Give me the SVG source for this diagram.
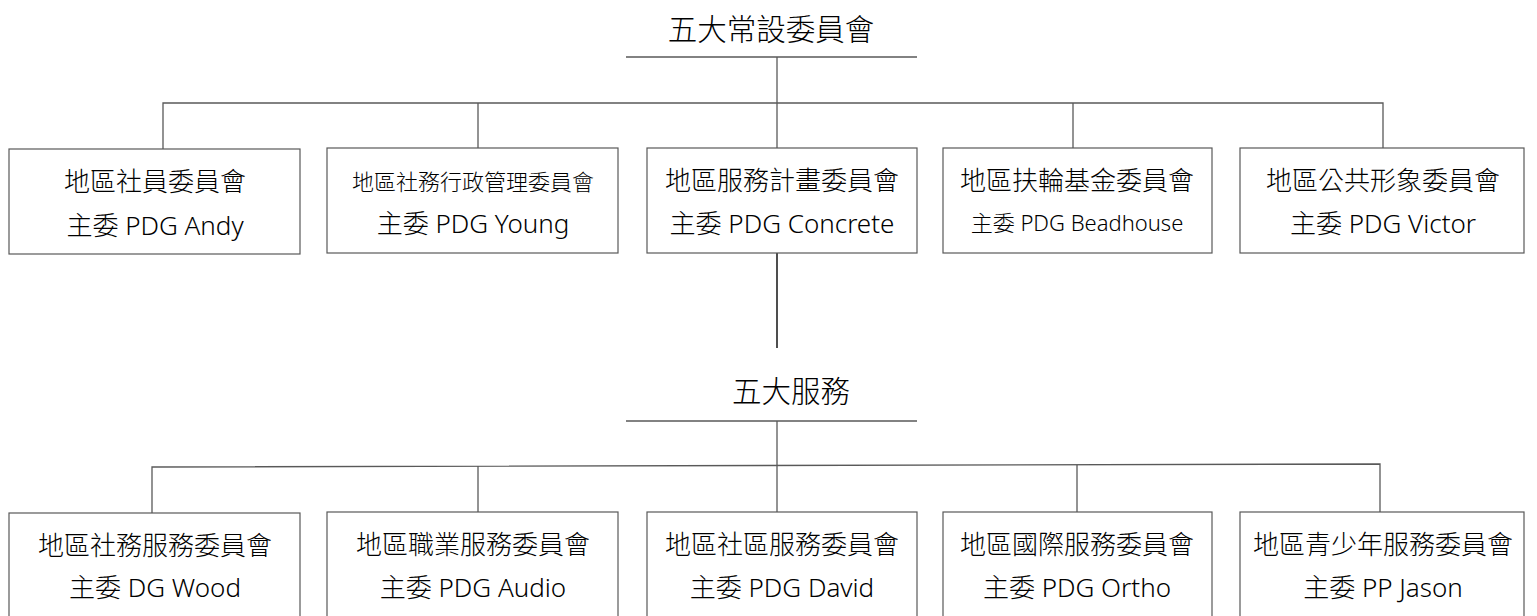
<svg xmlns="http://www.w3.org/2000/svg" width="1537" height="616" viewBox="0 0 1537 616">
<style>
.box{fill:#ffffff;stroke:#595959;stroke-width:1.2}
.ln{fill:none;stroke:#595959;stroke-width:1.3}
.dk{fill:none;stroke:#222222;stroke-width:1.6}
text{font-family:"Noto Sans","Noto Sans CJK TC",sans-serif;font-weight:300;fill:#000000;text-anchor:middle}
.t1{font-size:26px}
.t2{font-size:26px}
.ttl{font-size:29.5px}
</style>
<rect width="1537" height="616" fill="#ffffff"/>
<g id="connectors">
<line class="ln" x1="626" y1="57" x2="917" y2="57"/>
<line class="ln" x1="777" y1="57" x2="777" y2="148"/>
<polyline class="ln" points="163,149 163,103 1383,103 1383,148"/>
<line class="ln" x1="478" y1="103" x2="478" y2="148"/>
<line class="ln" x1="1073" y1="103" x2="1073" y2="148"/>
<line class="dk" x1="777" y1="253" x2="777" y2="348"/>
<line class="ln" x1="626" y1="421" x2="917" y2="421"/>
<line class="ln" x1="777" y1="421" x2="777" y2="512"/>
<polyline class="ln" points="152,513 152,467 1380,464 1380,512"/>
<line class="ln" x1="478" y1="466" x2="478" y2="512"/>
<line class="ln" x1="1077" y1="465" x2="1077" y2="512"/>
</g>
<g id="title1"><text class="ttl" x="771" y="40">五大常設委員會</text></g>
<g id="title2"><text class="ttl" x="791" y="402">五大服務</text></g>
<g id="n1"><rect class="box" x="9" y="149" width="291" height="105"/><text class="t1" x="155" y="191">地區社員委員會</text><text class="t2" x="155" y="235">主委 PDG Andy</text></g>
<g id="n2"><rect class="box" x="327" y="148" width="291" height="105"/><text class="t1" x="473" y="190" style="font-size:22px">地區社務行政管理委員會</text><text class="t2" x="473" y="233">主委 PDG Young</text></g>
<g id="n3"><rect class="box" x="647" y="148" width="270" height="105"/><text class="t1" x="782" y="190">地區服務計畫委員會</text><text class="t2" x="782" y="233">主委 PDG Concrete</text></g>
<g id="n4"><rect class="box" x="943" y="148" width="269" height="105"/><text class="t1" x="1077" y="190">地區扶輪基金委員會</text><text class="t2" x="1077" y="231" style="font-size:22px">主委 PDG Beadhouse</text></g>
<g id="n5"><rect class="box" x="1240" y="148" width="284" height="105"/><text class="t1" x="1383" y="190">地區公共形象委員會</text><text class="t2" x="1383" y="233">主委 PDG Victor</text></g>
<g id="n6"><rect class="box" x="9" y="513" width="291" height="105"/><text class="t1" x="155" y="555">地區社務服務委員會</text><text class="t2" x="155" y="597">主委 DG Wood</text></g>
<g id="n7"><rect class="box" x="327" y="512" width="291" height="105"/><text class="t1" x="473" y="554">地區職業服務委員會</text><text class="t2" x="473" y="597">主委 PDG Audio</text></g>
<g id="n8"><rect class="box" x="647" y="512" width="270" height="105"/><text class="t1" x="782" y="554">地區社區服務委員會</text><text class="t2" x="782" y="597">主委 PDG David</text></g>
<g id="n9"><rect class="box" x="943" y="512" width="269" height="105"/><text class="t1" x="1077" y="554">地區國際服務委員會</text><text class="t2" x="1077" y="597">主委 PDG Ortho</text></g>
<g id="n10"><rect class="box" x="1240" y="512" width="284" height="105"/><text class="t1" x="1383" y="554">地區青少年服務委員會</text><text class="t2" x="1383" y="597">主委 PP Jason</text></g>
</svg>
